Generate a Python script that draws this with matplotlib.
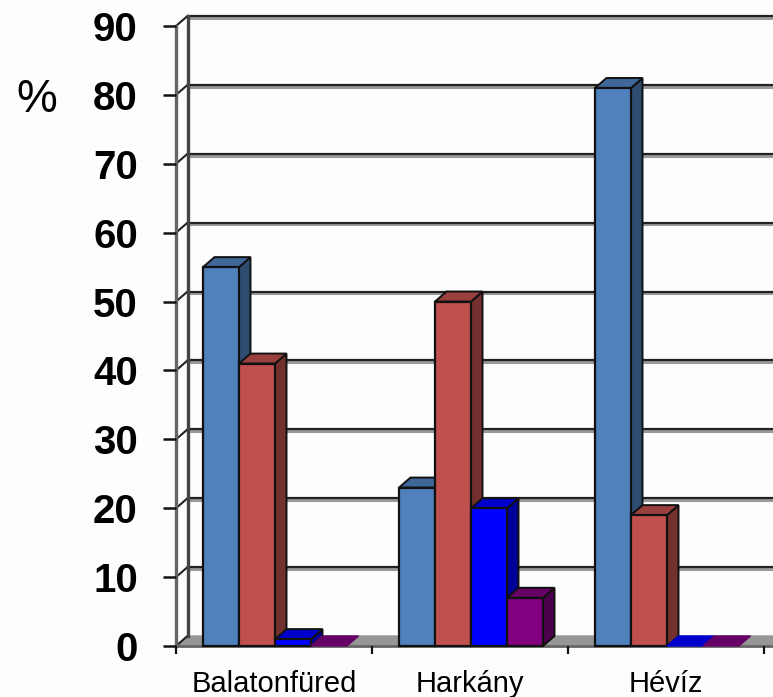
import numpy as np
import matplotlib
matplotlib.use('Agg')
import matplotlib.pyplot as plt

plt.rcParams['font.family'] = ['Liberation Sans', 'DejaVu Sans']

places = ['Balatonfüred', 'Harkány', 'Hévíz']
y_ticks = [0, 10, 20, 30, 40, 50, 60, 70, 80, 90]

series1 = [55, 23, 81]
series2 = [41, 50, 19]
series3 = [1, 20, 0]
series4 = [0, 7, 0]

front_cols = ['#4f81bd', '#c0504d', '#0000ff', '#800080']
side_cols = ['#2f4d71', '#73302e', '#000099', '#4c004c']
top_cols = ['#3f6797', '#9a403e', '#0000cc', '#660066']

W, H = 773, 697
fig = plt.figure(figsize=(W / 100, H / 100), dpi=100, facecolor='#fdfdfd')
ax = fig.add_axes([176 / W, 1 - 646 / H, 588 / W, 620 / H])
ax.set_facecolor('none')
ax.set_xlim(0, 3)
ax.set_ylim(0, 90)

# depth of the fake 3d, in data units
dx = 11.5 / 196
dy = 10 / 6.89
xright = 597 / 196

# floor
ax.fill([0, xright, xright + dx, dx], [0, 0, dy, dy], color='#969696', zorder=1, clip_on=False)
ax.plot([0, xright], [0, 0], color='#666666', lw=2, zorder=1.5, clip_on=False)

# grid on the back wall + slanted bit on the side wall
for v in y_ticks[1:]:
    ax.plot([dx, xright], [v + dy - 0.25, v + dy - 0.25], color='#999999', lw=2.2, zorder=1, clip_on=False)
    ax.plot([dx, xright], [v + dy, v + dy], color='#222222', lw=1.6, zorder=1.2, clip_on=False)
for v in y_ticks:
    ax.plot([0, dx], [v, v + dy], color='#222222', lw=1.5, zorder=1.2, clip_on=False)

# side wall edges
ax.plot([0, 0], [0, 90], color='#666666', lw=2.4, zorder=1.3, clip_on=False)
ax.plot([dx, dx], [dy, 90 + dy], color='#444444', lw=2.4, zorder=1.3, clip_on=False)

bar_w = 36 / 196
offset = 27 / 196
all_series = [series1, series2, series3, series4]

# later bars in a group hide the side of the earlier ones
for i in range(len(places)):
    for j, vals in enumerate(all_series):
        x0 = i + offset + j * bar_w
        x1 = x0 + bar_w
        v = vals[i]
        z = 3 + i + j * 0.1
        if v == 0:
            # empty bar only leaves a flat patch on the floor
            ax.fill([x0, x1, x1 + dx, x0 + dx], [0, 0, dy, dy], color=top_cols[j], zorder=z, clip_on=False)
            continue
        ax.fill([x1, x1 + dx, x1 + dx, x1], [0, dy, v + dy, v], facecolor=side_cols[j],
                edgecolor='#111111', lw=1.4, zorder=z, clip_on=False)
        ax.fill([x0, x1, x1 + dx, x0 + dx], [v, v, v + dy, v + dy], facecolor=top_cols[j],
                edgecolor='#111111', lw=1.4, zorder=z, clip_on=False)
        ax.bar(x0, v, width=bar_w, align='edge', color=front_cols[j], edgecolor='#111111', lw=1.6,
               zorder=z + 0.01, clip_on=False)

for s in ax.spines.values():
    s.set_visible(False)

ax.set_yticks(y_ticks)
ax.set_yticklabels([str(v) for v in y_ticks], fontsize=29, fontweight='bold', color='black')
ax.tick_params(axis='y', length=9.5, width=1.8, color='#111111', pad=18)

ax.set_xticks([0, 1, 2, 3])
ax.set_xticklabels([])
ax.set_xticks([0.5, 1.5, 2.5], minor=True)
ax.set_xticklabels(places, minor=True, fontsize=21)
ax.tick_params(axis='x', which='major', length=6, width=1.6, color='#111111')
ax.tick_params(axis='x', which='minor', length=0, pad=17)

fig.text(37 / W, 1 - 100 / H, '%', fontsize=33, ha='center', va='center', color='black')

fig.savefig('out.png', dpi=100, facecolor=fig.get_facecolor())
